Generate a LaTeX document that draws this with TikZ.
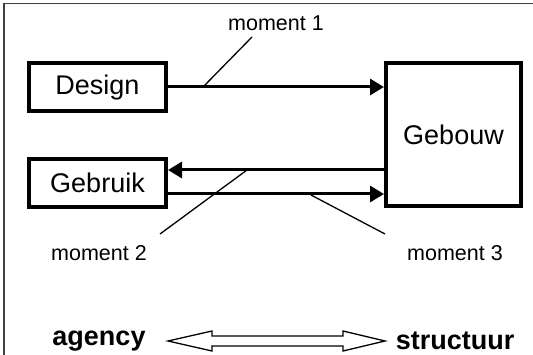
\documentclass[tikz,border=0pt]{standalone}
\usepackage{fontspec}
\setmainfont{Liberation Sans}
\usetikzlibrary{arrows.meta}
\begin{document}
\begin{tikzpicture}[x=1pt,y=-1pt,
  box/.style={draw,line width=4pt,inner sep=0pt,font=\fontsize{27}{30}\selectfont},
  flow/.style={line width=3pt,-{Triangle[length=14pt,width=16pt]}},
  lead/.style={line width=1.3pt},
  lbl/.style={font=\fontsize{21.5}{24}\selectfont,inner sep=0pt},
  big/.style={font=\bfseries\fontsize{27}{30}\selectfont,inner sep=0pt}]
\useasboundingbox (0,0) rectangle (533,355);
% outer frame (top and left edges only)
\draw[line width=1.4pt,black!75] (4,355) -- (4,3.5) -- (533,3.5);
% boxes
\node[box,minimum width=137pt,minimum height=48pt] (design) at (97.5,87.5) {Design};
\node[box,minimum width=137pt,minimum height=48pt] (gebruik) at (97.5,183) {Gebruik};
\node[box,minimum width=135pt,minimum height=143pt] (gebouw) at (453.5,135) {Gebouw};
% flows
\coordinate (d1) at (design.east |- 0,87);
\coordinate (g1) at (gebouw.west |- 0,87);
\draw[flow] (d1) -- (g1);
\coordinate (g2) at (gebouw.west |- 0,170);
\coordinate (u2) at (gebruik.east |- 0,170);
\draw[flow] (g2) -- (u2);
\coordinate (u3) at (gebruik.east |- 0,194);
\coordinate (g3) at (gebouw.west |- 0,194);
\draw[flow] (u3) -- (g3);
% moment labels with leader lines
\node[lbl] (m1) at (276,23) {moment 1};
\node[lbl] (m2) at (99,253) {moment 2};
\node[lbl] (m3) at (455,253) {moment 3};
\coordinate (m1a) at (252,37);
\coordinate (m1b) at (204,86);
\draw[lead] (m1a) -- (m1b);
\coordinate (m2a) at (160,234);
\coordinate (m2b) at (247,170);
\draw[lead] (m2a) -- (m2b);
\coordinate (m3a) at (311,195);
\coordinate (m3b) at (385,234);
\draw[lead] (m3a) -- (m3b);
% agency / structuur with hollow double arrow between them
\node[big] (ag) at (99,341) {agency};
\node[big] (st) at (455,341) {structuur};
\coordinate (tipL) at (168,341);
\coordinate (tipR) at (385,341);
\draw[line width=1.3pt,line join=miter]
  (tipL) -- (212,331) -- (212,336) -- (343,336) -- (343,331) -- (tipR)
  -- (343,351) -- (343,346) -- (212,346) -- (212,351) -- cycle;
\end{tikzpicture}
\end{document}
